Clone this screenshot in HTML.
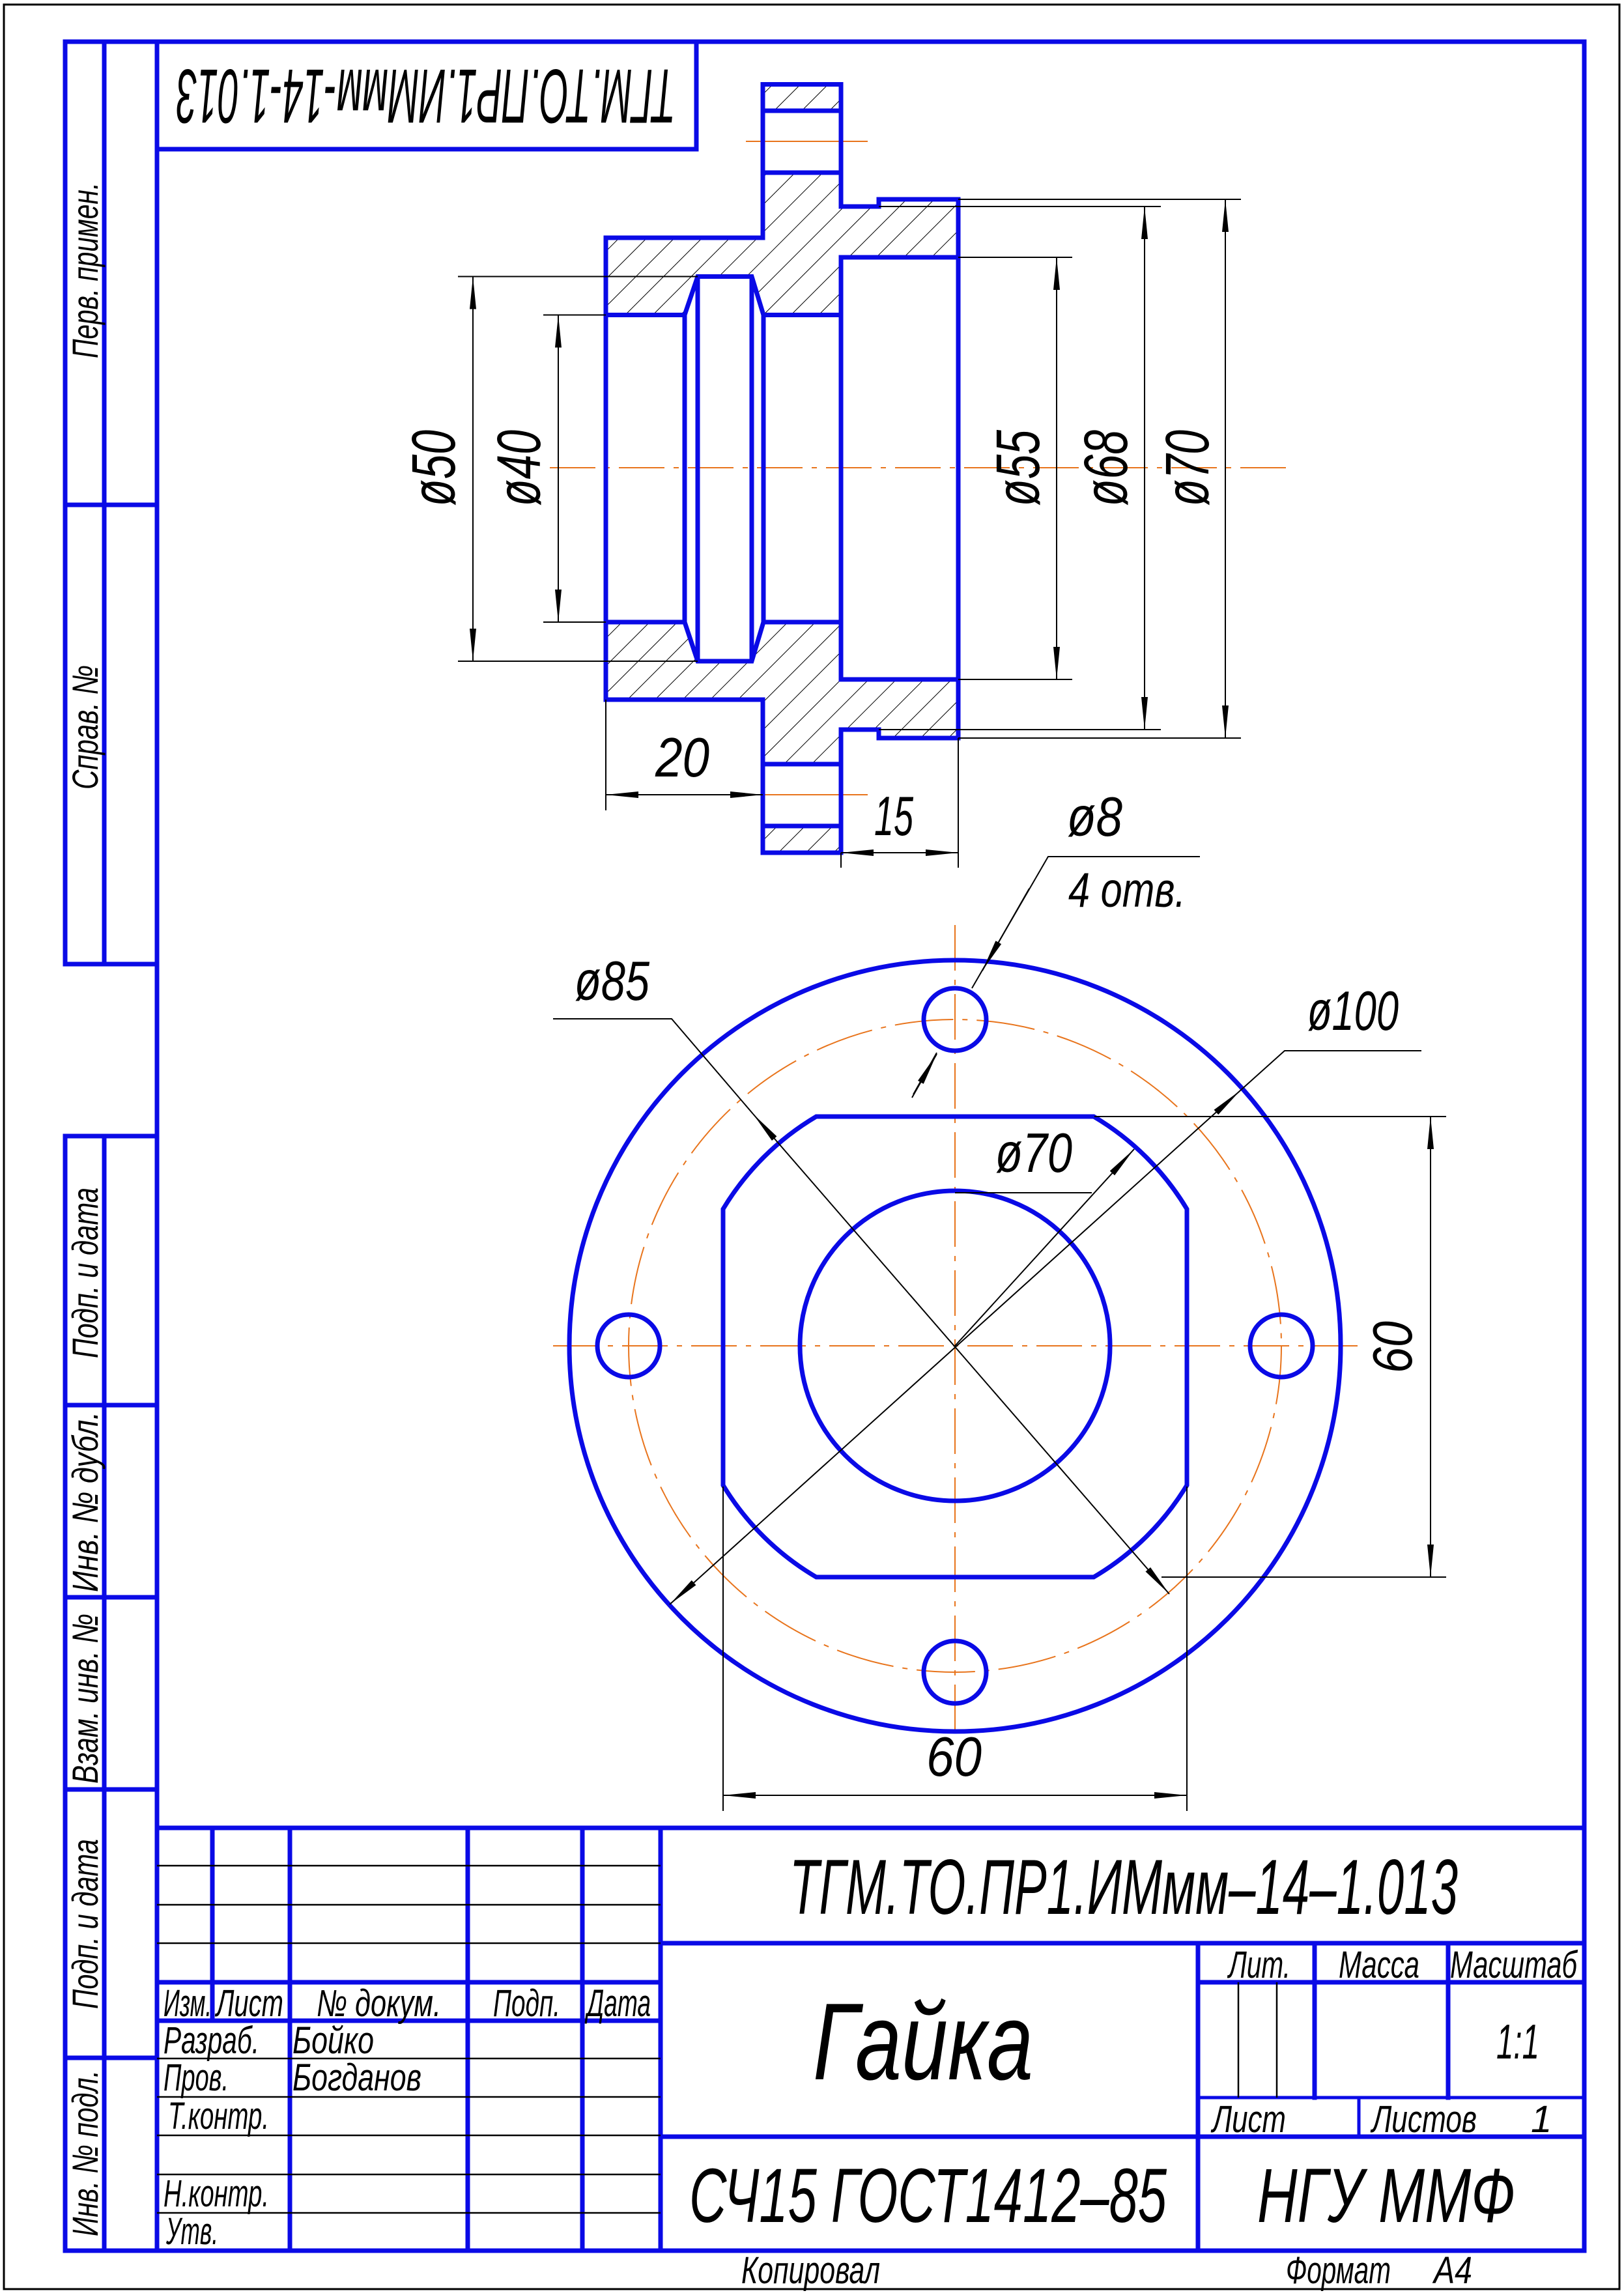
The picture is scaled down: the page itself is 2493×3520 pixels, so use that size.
<!DOCTYPE html>
<html><head><meta charset="utf-8"><style>html,body{margin:0;padding:0;background:#fff}svg{display:block}</style></head>
<body>
<svg xmlns="http://www.w3.org/2000/svg" width="2493" height="3520" viewBox="0 0 2493 3520">
<defs>
<pattern id="h" width="30" height="30" patternUnits="userSpaceOnUse" patternTransform="rotate(45)">
<line x1="0" y1="0" x2="0" y2="30" stroke="#000" stroke-width="2"/>
</pattern>
<marker id="a" viewBox="0 0 50 14" refX="50" refY="7" markerWidth="50" markerHeight="14" markerUnits="userSpaceOnUse" orient="auto-start-reverse">
<path d="M0,2 L50,7 L0,12 Z" fill="#000"/>
</marker>
</defs>
<rect x="0" y="0" width="2493" height="3520" fill="#fff"/>
<rect x="6" y="7" width="2480" height="3507" fill="none" stroke="#000" stroke-width="3"/>

<g fill="none" stroke="#0a0ae6" stroke-width="7" stroke-linecap="square">
<path d="M241,64 H2432 V3455 H100"/>
<line x1="241" y1="64" x2="241" y2="3455"/>
<path d="M241,64 H100 V1480 H241"/>
<line x1="160" y1="64" x2="160" y2="1480"/>
<line x1="100" y1="775" x2="241" y2="775"/>
<path d="M241,1744 H100 V3455"/>
<line x1="160" y1="1744" x2="160" y2="3455"/>
<line x1="100" y1="2157" x2="241" y2="2157"/>
<line x1="100" y1="2452" x2="241" y2="2452"/>
<line x1="100" y1="2747" x2="241" y2="2747"/>
<line x1="100" y1="3159" x2="241" y2="3159"/>
<path d="M241,229 H1069 V64"/>
<line x1="241" y1="2806" x2="2432" y2="2806"/>
<line x1="326" y1="2806" x2="326" y2="3102"/>
<line x1="445" y1="2806" x2="445" y2="3455"/>
<line x1="718" y1="2806" x2="718" y2="3455"/>
<line x1="894" y1="2806" x2="894" y2="3455"/>
<line x1="1014" y1="2806" x2="1014" y2="3455"/>
<line x1="241" y1="3043" x2="1014" y2="3043"/>
<line x1="241" y1="3102" x2="1014" y2="3102"/>
<line x1="1014" y1="2983" x2="2432" y2="2983"/>
<line x1="1839" y1="2983" x2="1839" y2="3455"/>
<line x1="1839" y1="3043" x2="2432" y2="3043"/>
<line x1="2018" y1="2983" x2="2018" y2="3220"/>
<line x1="2223" y1="2983" x2="2223" y2="3220"/>
<line x1="1839" y1="3220" x2="2432" y2="3220" stroke-width="5"/>
<line x1="2086" y1="3220" x2="2086" y2="3280" stroke-width="5"/>
<line x1="1014" y1="3280" x2="2432" y2="3280"/>
</g>
<g stroke="#000" stroke-width="2.5">
<line x1="241" y1="2864" x2="1014" y2="2864"/>
<line x1="241" y1="2924" x2="1014" y2="2924"/>
<line x1="241" y1="2983" x2="1014" y2="2983"/>
<line x1="241" y1="3160" x2="1014" y2="3160"/>
<line x1="241" y1="3219" x2="1014" y2="3219"/>
<line x1="241" y1="3278" x2="1014" y2="3278"/>
<line x1="241" y1="3338" x2="1014" y2="3338"/>
<line x1="241" y1="3397" x2="1014" y2="3397"/>
<line x1="1901" y1="3043" x2="1901" y2="3220"/>
<line x1="1960" y1="3043" x2="1960" y2="3220"/>
</g>

<path fill="url(#h)" fill-rule="evenodd" d="M930,365 L1171,365 L1171,129.5 L1291,129.5 L1291,317 L1349,317 L1349,306 L1471,306 L1471,395 L1291,395 L1291,483.5 L1172,483.5 L1154,424.5 L1071,424.5 L1051,483.5 L930,483.5 Z M1171,170 H1291 V265 H1171 Z"/>
<path fill="url(#h)" fill-rule="evenodd" d="M930,1074 L1171,1074 L1171,1309 L1291,1309 L1291,1120 L1349,1120 L1349,1133 L1471,1133 L1471,1043 L1291,1043 L1291,955 L1172,955 L1154,1015 L1071,1015 L1051,955 L930,955 Z M1171,1173 H1291 V1268 H1171 Z"/>
<g stroke="#e8741c" stroke-width="2" fill="none">
<line x1="844" y1="718" x2="1981" y2="718" stroke-dasharray="70 14 8 14"/>
<line x1="1145" y1="217" x2="1332" y2="217"/>
<line x1="1145" y1="1220" x2="1332" y2="1220"/>
</g>
<g fill="none" stroke="#0a0ae6" stroke-width="7" stroke-linejoin="miter">
<path d="M930,365 L1171,365 L1171,129.5 L1291,129.5 L1291,317 L1349,317 L1349,306 L1471,306 L1471,1133 L1349,1133 L1349,1120 L1291,1120 L1291,1309 L1171,1309 L1171,1074 L930,1074 Z"/>
<line x1="1171" y1="170" x2="1291" y2="170"/>
<line x1="1171" y1="265" x2="1291" y2="265"/>
<line x1="1171" y1="1173" x2="1291" y2="1173"/>
<line x1="1171" y1="1268" x2="1291" y2="1268"/>
<path d="M1471,395 H1291 V1043 H1471"/>
<path d="M930,483.5 H1051 L1071,424.5 H1154 L1172,483.5 H1291"/>
<path d="M930,955 H1051 L1071,1015 H1154 L1172,955 H1291"/>
<line x1="1051" y1="483.5" x2="1051" y2="955"/>
<line x1="1071" y1="424.5" x2="1071" y2="1015"/>
<line x1="1154" y1="424.5" x2="1154" y2="1015"/>
<line x1="1172" y1="483.5" x2="1172" y2="955"/>
</g>
<g stroke="#000" stroke-width="2" fill="none">
<line x1="703" y1="424.5" x2="1071" y2="424.5"/>
<line x1="703" y1="1015" x2="1071" y2="1015"/>
<line x1="726" y1="424.5" x2="726" y2="1015" marker-start="url(#a)" marker-end="url(#a)"/>
<line x1="834" y1="483.5" x2="930" y2="483.5"/>
<line x1="834" y1="955" x2="930" y2="955"/>
<line x1="857" y1="483.5" x2="857" y2="955" marker-start="url(#a)" marker-end="url(#a)"/>
<line x1="1471" y1="395" x2="1646" y2="395"/>
<line x1="1471" y1="1043" x2="1646" y2="1043"/>
<line x1="1622" y1="395" x2="1622" y2="1043" marker-start="url(#a)" marker-end="url(#a)"/>
<line x1="1349" y1="317" x2="1782" y2="317"/>
<line x1="1349" y1="1120" x2="1782" y2="1120"/>
<line x1="1757" y1="317" x2="1757" y2="1120" marker-start="url(#a)" marker-end="url(#a)"/>
<line x1="1471" y1="306" x2="1905" y2="306"/>
<line x1="1471" y1="1133" x2="1905" y2="1133"/>
<line x1="1881" y1="306" x2="1881" y2="1133" marker-start="url(#a)" marker-end="url(#a)"/>
<line x1="930" y1="1074" x2="930" y2="1244"/>
<line x1="930" y1="1220" x2="1171" y2="1220" marker-start="url(#a)" marker-end="url(#a)"/>
<line x1="1291" y1="1309" x2="1291" y2="1332"/>
<line x1="1471" y1="1133" x2="1471" y2="1332"/>
<line x1="1291" y1="1309" x2="1471" y2="1309" marker-start="url(#a)" marker-end="url(#a)"/>
</g>

<g stroke="#e8741c" stroke-width="2" fill="none">
<circle cx="1466" cy="2066" r="501" stroke-dasharray="90 14 8 14"/>
<line x1="849" y1="2066" x2="2084" y2="2066" stroke-dasharray="70 14 8 14"/>
<line x1="1466" y1="1420" x2="1466" y2="2670" stroke-dasharray="70 14 8 14"/>
</g>
<g fill="none" stroke="#0a0ae6" stroke-width="7">
<circle cx="1466" cy="2066" r="592"/>
<circle cx="1466" cy="2066" r="238"/>
<circle cx="1466" cy="1565" r="48"/>
<circle cx="1466" cy="2567" r="48"/>
<circle cx="965" cy="2066" r="48"/>
<circle cx="1967" cy="2066" r="48"/>
<path d="M1253,1714 H1679 A412,412 0 0 1 1822,1856 V2280 A412,412 0 0 1 1679,2421 H1253 A412,412 0 0 1 1110,2280 V1856 A412,412 0 0 1 1253,1714 Z"/>
</g>
<g stroke="#000" stroke-width="2" fill="none">
<line x1="1680" y1="1714" x2="2220" y2="1714"/>
<line x1="1783" y1="2421" x2="2220" y2="2421"/>
<line x1="2196" y1="1714" x2="2196" y2="2421" marker-start="url(#a)" marker-end="url(#a)"/>
<line x1="1110" y1="2282" x2="1110" y2="2780"/>
<line x1="1822" y1="2282" x2="1822" y2="2780"/>
<line x1="1110" y1="2756" x2="1822" y2="2756" marker-start="url(#a)" marker-end="url(#a)"/>
<polyline points="849,1564 1031,1564 1156,1710"/>
<line x1="1156" y1="1710" x2="1795" y2="2447" marker-start="url(#a)" marker-end="url(#a)"/>
<polyline points="2182,1613 1972,1613 1904,1674"/>
<line x1="1904" y1="1674" x2="1028" y2="2463" marker-start="url(#a)" marker-end="url(#a)"/>
<line x1="1466" y1="2066" x2="1741" y2="1764" marker-end="url(#a)"/>
<line x1="1466" y1="1831" x2="1676" y2="1831"/>
<polyline points="1842,1315 1609,1315 1492,1517"/>
<line x1="1402" y1="1680" x2="1438" y2="1616"/>
<line x1="1580" y1="1364" x2="1508" y2="1490" marker-end="url(#a)"/>
<line x1="1400" y1="1685" x2="1438" y2="1618" marker-end="url(#a)"/>
</g>

<g font-family="'Liberation Sans','DejaVu Sans',sans-serif" font-style="italic" fill="#000">
<text transform="translate(1037,107) rotate(180)" font-size="118" textLength="766" lengthAdjust="spacingAndGlyphs">ТГМ.ТО.ПР1.ИМмм-14-1.013</text>
<text transform="translate(150,550) rotate(-90)" font-size="56" textLength="270" lengthAdjust="spacingAndGlyphs">Перв. примен.</text>
<text transform="translate(150,1212) rotate(-90)" font-size="56" textLength="191" lengthAdjust="spacingAndGlyphs">Справ. №</text>
<text transform="translate(150,2085) rotate(-90)" font-size="56" textLength="262" lengthAdjust="spacingAndGlyphs">Подп. и дата</text>
<text transform="translate(150,2444) rotate(-90)" font-size="56" textLength="277" lengthAdjust="spacingAndGlyphs">Инв. № дубл.</text>
<text transform="translate(150,2738) rotate(-90)" font-size="56" textLength="261" lengthAdjust="spacingAndGlyphs">Взам. инв. №</text>
<text transform="translate(150,3084) rotate(-90)" font-size="56" textLength="261" lengthAdjust="spacingAndGlyphs">Подп. и дата</text>
<text transform="translate(150,3433) rotate(-90)" font-size="56" textLength="255" lengthAdjust="spacingAndGlyphs">Инв. № подл.</text>
<text transform="translate(698,777) rotate(-90)" font-size="95" textLength="117" lengthAdjust="spacingAndGlyphs">ø50</text>
<text transform="translate(829,777) rotate(-90)" font-size="95" textLength="117" lengthAdjust="spacingAndGlyphs">ø40</text>
<text transform="translate(1595,777) rotate(-90)" font-size="95" textLength="117" lengthAdjust="spacingAndGlyphs">ø55</text>
<text transform="translate(1730,777) rotate(-90)" font-size="95" textLength="117" lengthAdjust="spacingAndGlyphs">ø68</text>
<text transform="translate(1855,777) rotate(-90)" font-size="95" textLength="117" lengthAdjust="spacingAndGlyphs">ø70</text>
<text x="1006" y="1192" font-size="85" textLength="83" lengthAdjust="spacingAndGlyphs">20</text>
<text x="1342" y="1282" font-size="85" textLength="60" lengthAdjust="spacingAndGlyphs">15</text>
<text x="1638" y="1283" font-size="85" textLength="85" lengthAdjust="spacingAndGlyphs">ø8</text>
<text x="1640" y="1392" font-size="75" textLength="180" lengthAdjust="spacingAndGlyphs">4  отв.</text>
<text x="882" y="1535" font-size="85" textLength="115" lengthAdjust="spacingAndGlyphs">ø85</text>
<text x="2007" y="1581" font-size="85" textLength="140" lengthAdjust="spacingAndGlyphs">ø100</text>
<text x="1528" y="1799" font-size="85" textLength="118" lengthAdjust="spacingAndGlyphs">ø70</text>
<text transform="translate(2167,2108) rotate(-90)" font-size="85" textLength="80" lengthAdjust="spacingAndGlyphs">60</text>
<text x="1422" y="2726" font-size="85" textLength="85" lengthAdjust="spacingAndGlyphs">60</text>
<text x="1212" y="2938" font-size="120" textLength="1026" lengthAdjust="spacingAndGlyphs">ТГМ.ТО.ПР1.ИМмм–14–1.013</text>
<text x="1248" y="3192" font-size="168" textLength="338" lengthAdjust="spacingAndGlyphs">Гайка</text>
<text x="1058" y="3411" font-size="118" textLength="733" lengthAdjust="spacingAndGlyphs">СЧ15 ГОСТ1412–85</text>
<text x="1930" y="3411" font-size="118" textLength="396" lengthAdjust="spacingAndGlyphs">НГУ ММФ</text>
<text x="1886" y="3036" font-size="58" textLength="95" lengthAdjust="spacingAndGlyphs">Лит.</text>
<text x="2055" y="3036" font-size="58" textLength="124" lengthAdjust="spacingAndGlyphs">Масса</text>
<text x="2226" y="3036" font-size="58" textLength="195" lengthAdjust="spacingAndGlyphs">Масштаб</text>
<text x="2297" y="3160" font-size="75" textLength="66" lengthAdjust="spacingAndGlyphs">1:1</text>
<text x="1861" y="3273" font-size="58" textLength="113" lengthAdjust="spacingAndGlyphs">Лист</text>
<text x="2106" y="3273" font-size="58" textLength="161" lengthAdjust="spacingAndGlyphs">Листов</text>
<text x="2350" y="3273" font-size="58">1</text>
<text x="251" y="3095" font-size="58" textLength="74" lengthAdjust="spacingAndGlyphs">Изм.</text>
<text x="332" y="3095" font-size="58" textLength="103" lengthAdjust="spacingAndGlyphs">Лист</text>
<text x="486" y="3095" font-size="58" textLength="191" lengthAdjust="spacingAndGlyphs">№ докум.</text>
<text x="757" y="3095" font-size="58" textLength="103" lengthAdjust="spacingAndGlyphs">Подп.</text>
<text x="901" y="3095" font-size="58" textLength="98" lengthAdjust="spacingAndGlyphs">Дата</text>
<text x="251" y="3152" font-size="58" textLength="147" lengthAdjust="spacingAndGlyphs">Разраб.</text>
<text x="449" y="3152" font-size="58" textLength="125" lengthAdjust="spacingAndGlyphs">Бойко</text>
<text x="251" y="3209" font-size="58" textLength="100" lengthAdjust="spacingAndGlyphs">Пров.</text>
<text x="449" y="3209" font-size="58" textLength="198" lengthAdjust="spacingAndGlyphs">Богданов</text>
<text x="258" y="3268" font-size="58" textLength="155" lengthAdjust="spacingAndGlyphs">Т.контр.</text>
<text x="251" y="3387" font-size="58" textLength="162" lengthAdjust="spacingAndGlyphs">Н.контр.</text>
<text x="255" y="3445" font-size="58" textLength="80" lengthAdjust="spacingAndGlyphs">Утв.</text>
<text x="1138" y="3505" font-size="58" textLength="213" lengthAdjust="spacingAndGlyphs">Копировал</text>
<text x="1974" y="3505" font-size="58" textLength="161" lengthAdjust="spacingAndGlyphs">Формат</text>
<text x="2201" y="3505" font-size="58" textLength="59" lengthAdjust="spacingAndGlyphs">А4</text>
</g>
</svg>
</body></html>
